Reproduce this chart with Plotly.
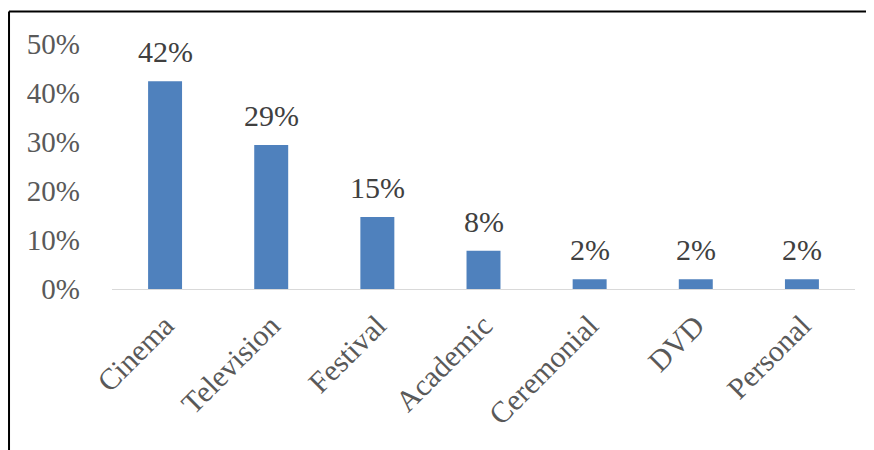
import plotly.graph_objects as go

categories = ["Cinema", "Television", "Festival", "Academic", "Ceremonial", "DVD", "Personal"]
values = [42.4, 29.4, 14.7, 7.8, 2.0, 2.0, 2.0]
value_labels = ["42%", "29%", "15%", "8%", "2%", "2%", "2%"]
y_ticks = [0, 10, 20, 30, 40, 50]
y_tick_labels = ["0%", "10%", "20%", "30%", "40%", "50%"]

FONT = "Liberation Serif, Times New Roman, serif"

fig = go.Figure()
fig.add_trace(go.Bar(
    x=categories, y=values,
    marker=dict(color="#4F81BD", line=dict(width=0)),
    hoverinfo="skip",
))

for c, v, t in zip(categories, values, value_labels):
    fig.add_annotation(x=c, y=v, text=t, showarrow=False, yanchor="bottom",
                       yshift=11, font=dict(family=FONT, size=30, color="#404040"))

fig.update_layout(
    width=866, height=442,
    margin=dict(l=104, r=19, t=36, b=161),
    paper_bgcolor="white", plot_bgcolor="white",
    bargap=0.68,
    showlegend=False,
    font=dict(family=FONT, size=29, color="#595959"),
    xaxis=dict(tickangle=-45, showgrid=False, showline=True, linecolor="#D9D9D9",
               linewidth=1, ticks="", tickfont=dict(family=FONT, size=30, color="#595959"),
               ticklabelstandoff=6),
    yaxis=dict(range=[0, 50], tickvals=y_ticks, ticktext=y_tick_labels, showgrid=False,
               zeroline=False, showline=False, ticks="",
               tickfont=dict(family=FONT, size=29, color="#595959"),
               ticklabelstandoff=31),
    shapes=[
        dict(type="line", xref="paper", yref="paper", x0=-0.1386, x1=1.2, y0=1.1327, y1=1.1327,
             line=dict(color="black", width=2)),
        dict(type="line", xref="paper", yref="paper", x0=-0.1386, x1=-0.1386, y0=1.1327, y1=-0.9,
             line=dict(color="black", width=2)),
    ],
)

fig.write_html("out.html")
